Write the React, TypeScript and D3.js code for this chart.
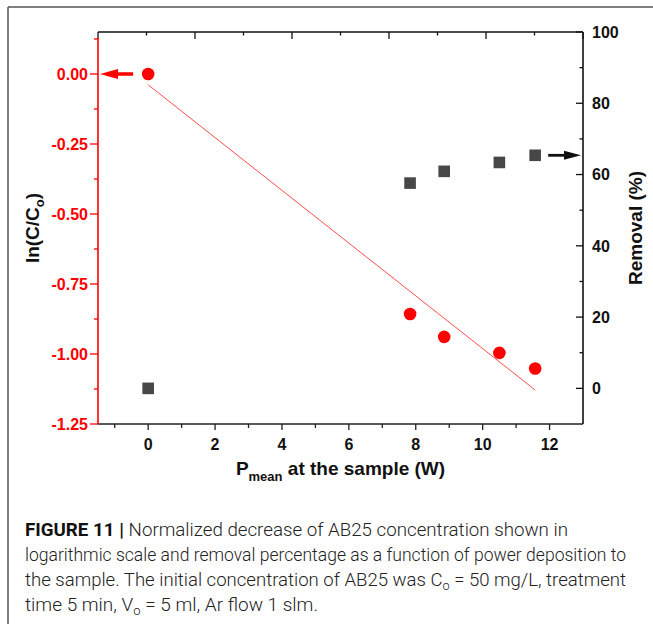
import React from "react";
import * as d3 from "d3";

// ---- data ----
const power = [0, 7.83, 8.85, 10.5, 11.57];
const lnRatio = [0, -0.857, -0.939, -0.996, -1.052];
const removal = [0, 57.6, 60.9, 63.4, 65.4];

const xMajorTicks = [0, 2, 4, 6, 8, 10, 12];
const xMinorTicks = [-1, 1, 3, 5, 7, 9, 11];
const yLeftMajor = [0, -0.25, -0.5, -0.75, -1.0, -1.25];
const yLeftMinor = [0.125, -0.125, -0.375, -0.625, -0.875, -1.125];
const yRightMajor = [0, 20, 40, 60, 80, 100];
const yRightMinor = [10, 30, 50, 70, 90];
const topTicks = [0, 1, 2, 3, 4, 5, 6, 7, 8, 9, 10];

const captionLines = [
  "FIGURE 11 | Normalized decrease of AB25 concentration shown in",
  "logarithmic scale and removal percentage as a function of power deposition to",
  "the sample. The initial concentration of AB25 was C_o = 50 mg/L, treatment",
  "time 5 min, V_o = 5 ml, Ar flow 1 slm.",
];

const W = 653;
const H = 624;
const L = 98, R = 583, T = 32, B = 424;
const FONT = "'Liberation Sans', Arial, Helvetica, sans-serif";
const CAP_FONT = "'Roboto', 'Liberation Sans Narrow', 'Liberation Sans', Arial, sans-serif";

export default function App() {
  const x = d3.scaleLinear().domain([-1.5, 13]).range([L, R]);
  const yL = d3.scaleLinear().domain([-1.25, 0.15]).range([B, T]);
  const yR = d3.scaleLinear().domain([-10, 100]).range([B, T]);
  const xTop = d3.scaleLinear().domain([0, 10]).range([L, R]);

  // linear fit of ln data
  const mx = d3.mean(power)!;
  const my = d3.mean(lnRatio)!;
  let sxy = 0, sxx = 0;
  power.forEach((p, i) => {
    sxy += (p - mx) * (lnRatio[i] - my);
    sxx += (p - mx) * (p - mx);
  });
  const slope = sxy / sxx;
  const intercept = my - slope * mx;
  const xFit = [d3.min(power)!, d3.max(power)!];
  const fitLine = d3
    .line<number>()
    .x((d) => x(d))
    .y((d) => yL(intercept + slope * d));

  const fmtL = (v: number) => d3.format(".2f")(v).replace("\u2212", "-");
  const redY0 = yL(lnRatio[0]);
  const blackY = yR(removal[removal.length - 1]);
  const lastX = x(power[power.length - 1]);

  const captionX = 25;
  const captionBase = [536, 561, 586, 611];
  const captionLen = [543, 601, 601, 293];

  const renderCaption = (line: string, i: number) => {
    if (i === 0) {
      const rest = line.replace("FIGURE 11 | ", "");
      return (
        <>
          <tspan fontWeight="bold" fill="#111">FIGURE 11 </tspan>
          <tspan fontWeight="bold" fill="#111">| </tspan>
          <tspan>{rest}</tspan>
        </>
      );
    }
    const parts = line.split("_o");
    if (parts.length === 1) return <tspan>{line}</tspan>;
    return (
      <>
        <tspan>{parts[0]}</tspan>
        <tspan fontSize={12} dy={4}>o</tspan>
        <tspan dy={-4}>{parts[1]}</tspan>
      </>
    );
  };

  return (
    <svg width={W} height={H} style={{ position: "absolute", left: 0, top: 0, background: "#fff" }}>
      {/* figure frame */}
      <line x1={8} x2={W} y1={7} y2={7} stroke="#555" strokeWidth={1.5} />
      <line x1={8} x2={8} y1={7} y2={H} stroke="#555" strokeWidth={1.5} />

      {/* top axis */}
      <line x1={L} x2={R} y1={T} y2={T} stroke="#111" strokeWidth={1.6} />
      {topTicks.map((t) => (
        <line key={"tt" + t} x1={xTop(t)} x2={xTop(t)} y1={T} y2={T + (t % 2 === 0 ? 7 : 3.5)} stroke="#111" strokeWidth={1.3} />
      ))}
      {/* right axis */}
      <line x1={R} x2={R} y1={T} y2={B} stroke="#111" strokeWidth={1.6} />
      {yRightMajor.map((t) => (
        <line key={"rM" + t} x1={R - 7} x2={R} y1={yR(t)} y2={yR(t)} stroke="#111" strokeWidth={1.3} />
      ))}
      {yRightMinor.map((t) => (
        <line key={"rm" + t} x1={R - 3.5} x2={R} y1={yR(t)} y2={yR(t)} stroke="#111" strokeWidth={1.3} />
      ))}
      {yRightMajor.map((t) => (
        <text key={"rl" + t} x={592} y={yR(t)} dy="0.36em" fontFamily={FONT} fontWeight="bold" fontSize={16} fill="#111">
          {t}
        </text>
      ))}
      {/* bottom axis */}
      <line x1={L} x2={R} y1={B} y2={B} stroke="#222" strokeWidth={1.6} />
      {xMajorTicks.map((t) => (
        <line key={"bM" + t} x1={x(t)} x2={x(t)} y1={B} y2={B + 6} stroke="#222" strokeWidth={1.3} />
      ))}
      {xMinorTicks.map((t) => (
        <line key={"bm" + t} x1={x(t)} x2={x(t)} y1={B} y2={B + 4} stroke="#222" strokeWidth={1.3} />
      ))}
      {xMajorTicks.map((t) => (
        <text key={"bl" + t} x={x(t)} y={450} textAnchor="middle" fontFamily={FONT} fontWeight="bold" fontSize={16} fill="#111">
          {t}
        </text>
      ))}
      {/* left axis (red) */}
      <line x1={L} x2={L} y1={T + 6} y2={B} stroke="#ff0000" strokeWidth={1.6} />
      {yLeftMajor.map((t) => (
        <line key={"lM" + t} x1={L - 8} x2={L} y1={yL(t)} y2={yL(t)} stroke="#ff0000" strokeWidth={1.3} />
      ))}
      {yLeftMinor.map((t) => (
        <line key={"lm" + t} x1={L - 4} x2={L} y1={yL(t)} y2={yL(t)} stroke="#ff0000" strokeWidth={1.3} />
      ))}
      {yLeftMajor.map((t) => (
        <text key={"ll" + t} x={88} y={yL(t)} dy="0.36em" textAnchor="end" fontFamily={FONT} fontWeight="bold" fontSize={16} fill="#ff0000">
          {fmtL(t)}
        </text>
      ))}

      {/* axis titles */}
      <text transform={`translate(39,${(T + B) / 2}) rotate(-90)`} textAnchor="middle" fontFamily={FONT} fontWeight="bold" fontSize={19} fill="#111">
        ln(C/C<tspan fontSize={13} dy={5}>o</tspan><tspan dy={-5}>)</tspan>
      </text>
      <text transform={`translate(642,${(T + B) / 2}) rotate(-90)`} textAnchor="middle" fontFamily={FONT} fontWeight="bold" fontSize={19} fill="#111">
        Removal (%)
      </text>
      <text x={(L + R) / 2} y={475} textAnchor="middle" fontFamily={FONT} fontWeight="bold" fontSize={19} fill="#111">
        P<tspan fontSize={13} dy={6}>mean</tspan><tspan dy={-6}> at the sample (W)</tspan>
      </text>

      {/* fit line */}
      <path d={fitLine(xFit) || ""} fill="none" stroke="#ff4d4d" strokeWidth={1} />

      {/* ln data */}
      {power.map((p, i) => (
        <circle key={"c" + i} cx={x(p)} cy={yL(lnRatio[i])} r={6.3} fill="#ff0000" />
      ))}
      {/* removal data */}
      {power.map((p, i) => (
        <rect key={"s" + i} x={x(p) - 5.8} y={yR(removal[i]) - 5.8} width={11.6} height={11.6} fill="#474747" />
      ))}

      {/* arrows */}
      <line x1={x(0) - 15} x2={L + 16} y1={redY0} y2={redY0} stroke="#ff0000" strokeWidth={3.5} />
      <polygon points={`${L + 2},${redY0} ${L + 20},${redY0 - 5} ${L + 20},${redY0 + 5}`} fill="#ff0000" />
      <line x1={lastX + 13} x2={R - 16} y1={blackY} y2={blackY} stroke="#111" strokeWidth={2.8} />
      <polygon points={`${R - 2},${blackY} ${R - 19},${blackY - 4.5} ${R - 19},${blackY + 4.5}`} fill="#111" />

      {/* caption */}
      {captionLines.map((line, i) => (
        <text
          key={"cap" + i}
          x={captionX}
          y={captionBase[i]}
          fontFamily={CAP_FONT}
          fontWeight={300}
          fontSize={17.5}
          fill="#222"
          textLength={captionLen[i]}
          lengthAdjust="spacingAndGlyphs"
        >
          {renderCaption(line, i)}
        </text>
      ))}
    </svg>
  );
}
